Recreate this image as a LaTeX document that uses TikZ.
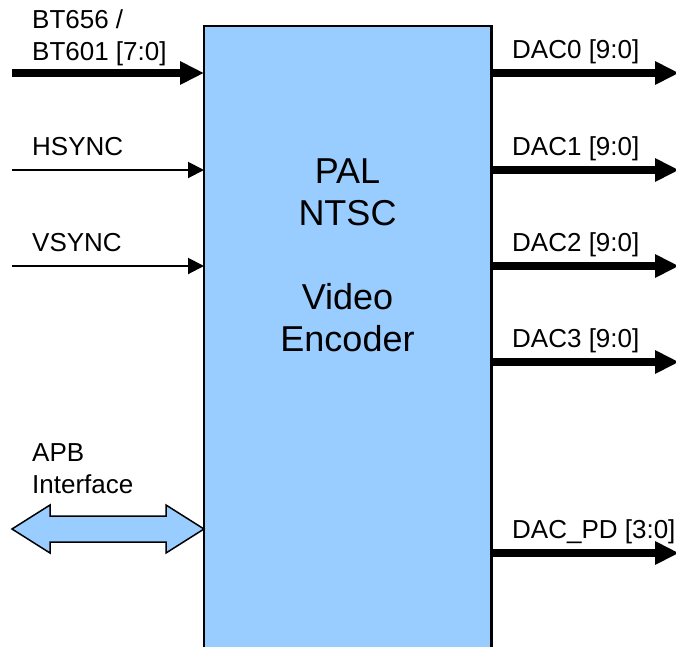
\documentclass[tikz,border=0pt]{standalone}
\usepackage{fontspec}
\setmainfont{Liberation Sans}
\usepackage{tikz}
\usetikzlibrary{arrows.meta,positioning,calc}
\definecolor{encblue}{HTML}{99CCFF}

\begin{document}
\begin{tikzpicture}[x=1pt, y=-1pt,
    lbl/.style={anchor=base west, inner sep=0pt, align=left, font=\fontsize{26}{32}\selectfont},
    bus/.style={line width=8pt, -{Triangle[length=24pt,width=22pt]}},
    wire/.style={line width=2pt, -{Triangle[length=16pt,width=16pt]}}]
    \useasboundingbox (0,0) rectangle (676,646);

    % Encoder block (open at the bottom)
    \node[fill=encblue, inner sep=0pt, minimum width=287pt, minimum height=640pt, anchor=north west] (enc) at (204,26) {};
    \draw[line width=2.3pt] (enc.south west) -- (enc.north west) -- (enc.north east) -- (enc.south east);
    \node[anchor=base, align=center, inner sep=0pt, font=\fontsize{36}{42}\selectfont] (title) at (347.5,351) {PAL\\NTSC\\[42pt]Video\\Encoder};

    % Inputs
    \coordinate (bt) at (12,73);
    \coordinate (hs) at (12,170);
    \coordinate (vs) at (12,266);
    \coordinate (apb) at (12,529);

    \draw[bus] (bt) -- (bt -| enc.west);
    \draw[wire] (hs) -- (hs -| enc.west);
    \draw[wire] (vs) -- (vs -| enc.west);

    \node[lbl] (btlbl) at (32,60) {BT656 /\\BT601 [7:0]};
    \node[lbl] (hslbl) at (32,155) {HSYNC};
    \node[lbl] (vslbl) at (32,251) {VSYNC};
    \node[lbl] (apblbl) at (32,493) {APB\\Interface};

    %Draw APB double arrow
    \coordinate (apbR) at (apb -| enc.west);
    \draw[line width=1.5pt, fill=encblue, line join=miter]
        (apb) -- ($(apb)+(38,-24)$) -- ($(apb)+(38,-13)$) -- ($(apbR)+(-38,-13)$) -- ($(apbR)+(-38,-24)$)
        -- (apbR) -- ($(apbR)+(-38,24)$) -- ($(apbR)+(-38,13)$) -- ($(apb)+(38,13)$) -- ($(apb)+(38,24)$) -- cycle;

    % Outputs
    \foreach \name/\y/\txt in {dac0/73/{DAC0 [9:0]}, dac1/170/{DAC1 [9:0]}, dac2/266/{DAC2 [9:0]}, dac3/362/{DAC3 [9:0]}, dacpd/553/{DAC\_PD [3:0]}} {
        \coordinate (\name) at (679,\y);
        \draw[bus] (\name -| enc.east) -- (\name);
        \node[lbl] (\name lbl) at (512,\y-15) {\txt};
    }
\end{tikzpicture}
\end{document}
